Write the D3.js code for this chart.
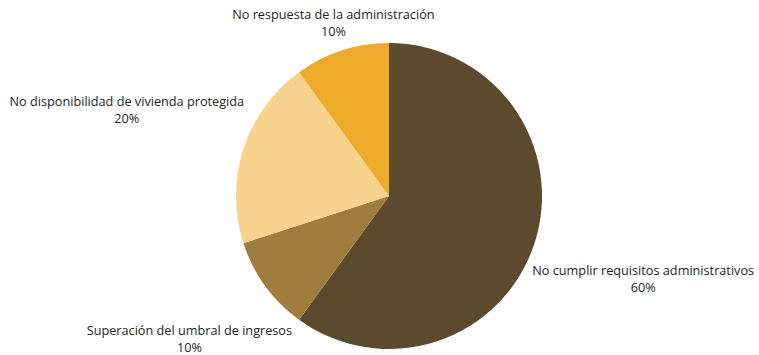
<!DOCTYPE html>
<html>
<head>
<meta charset="utf-8">
<script src="https://cdn.jsdelivr.net/npm/d3@7"></script>
<style>
  html, body { margin: 0; padding: 0; background: #ffffff; }
  svg { display: block; }
  .lbl { font-family: "Open Sans", "Noto Sans", sans-serif; font-size: 12.7px; font-weight: 500; fill: #1e1e1e; }
</style>
</head>
<body>
<svg id="chart" width="759" height="355"></svg>
<script>
// Motivos de denegación (porcentaje de casos)
const categories = [
  "No cumplir requisitos administrativos",
  "Superación del umbral de ingresos",
  "No disponibilidad de vivienda protegida",
  "No respuesta de la administración"
];
const values = [60, 10, 20, 10];
const colors = ["#5c4a2f", "#9f7d3c", "#f8d38d", "#ecab29"];

// Label nudges relative to the outer label arc, in px: [dx, dy]
const labelNudge = [[83, 28], [-54, 38], [-91, -30], [0, -1]];

const width = 759, height = 355;
const cx = 389, cy = 196, radius = 153;

const svg = d3.select("#chart");
const g = svg.append("g").attr("transform", `translate(${cx},${cy})`);

const data = categories.map((c, i) => ({ name: c, value: values[i], color: colors[i], i }));

const pie = d3.pie().sort(null).value(d => d.value);
const arc = d3.arc().innerRadius(0).outerRadius(radius);
const labelArc = d3.arc().innerRadius(180).outerRadius(180);

const arcs = pie(data);

g.selectAll("path.slice")
  .data(arcs)
  .join("path")
  .attr("class", "slice")
  .attr("d", arc)
  .attr("fill", d => d.data.color);

const lineGap = 17;
const labels = g.selectAll("text.lbl")
  .data(arcs)
  .join("text")
  .attr("class", "lbl")
  .attr("text-anchor", "middle")
  .attr("transform", d => {
    const [x, y] = labelArc.centroid(d);
    const [nx, ny] = labelNudge[d.data.i];
    return `translate(${x + nx},${y + ny})`;
  });

labels.append("tspan")
  .attr("x", 0)
  .attr("y", -lineGap / 2 + 4)
  .text(d => d.data.name);

labels.append("tspan")
  .attr("x", 0)
  .attr("y", lineGap / 2 + 4)
  .text(d => d.data.value + "%");
</script>
</body>
</html>
